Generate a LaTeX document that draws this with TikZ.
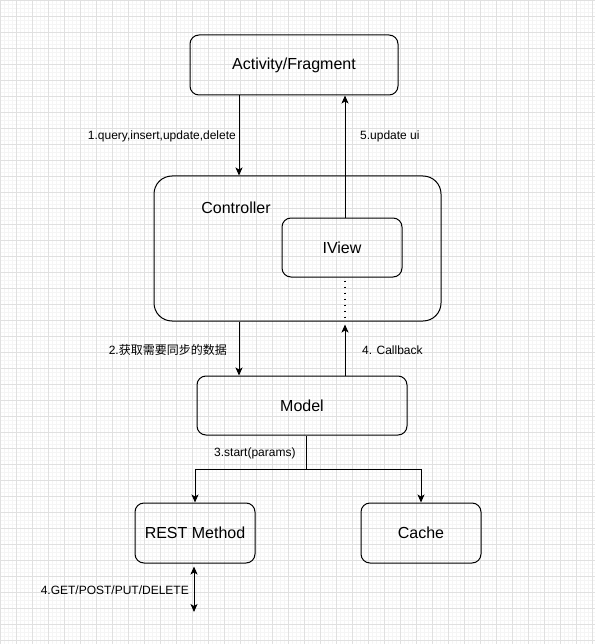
\documentclass[tikz,border=0pt]{standalone}
\usepackage{fontspec}
\setmainfont{Liberation Sans}
\newfontfamily\cjk{Noto Sans CJK SC}
\usepackage{tikz}
\usetikzlibrary{arrows.meta}
\usetikzlibrary{calc}
\usetikzlibrary{positioning}

\begin{document}
\begin{tikzpicture}[x=1pt,y=-1pt,
	box/.style={draw,line width=1pt,rounded corners=9pt,inner sep=0pt,font=\fontsize{16}{18}\selectfont},
	lbl/.style={inner sep=0pt,font=\fontsize{12}{14}\selectfont},
	arr/.style={line width=1pt,-{Stealth[length=8pt,width=7pt,inset=2pt]}},
	minorgrid/.style={draw=black!4,line width=0.5pt},
	majorgrid/.style={draw=black!12,line width=0.8pt}]
		\useasboundingbox (0,0) rectangle (594,644);
		%print background grid
		\begin{scope}[shift={(0.5,0.5)}]
		\draw[minorgrid,step=4pt] (-0.5,-0.5) grid (594,644);
		\draw[majorgrid,step=16pt] (-0.5,-0.5) grid (594,644);
		\end{scope}
		%print boxes
		\node[box,minimum width=208pt,minimum height=60pt] (act) at (294,65) {Activity/Fragment};
		\node[box,rounded corners=18pt,minimum width=287pt,minimum height=145pt] (ctrl) at (297.5,248.5) {};
		\node[font=\fontsize{16}{18}\selectfont] (ctrltext) at (236,208) {Controller};
		\node[box,minimum width=120pt,minimum height=59pt] (iview) at (342,247.5) {IView};
		\node[box,minimum width=210pt,minimum height=59pt] (model) at (302,405.5) {Model};
		\node[box,minimum width=120pt,minimum height=60pt] (rest) at (195,533) {REST Method};
		\node[box,minimum width=120pt,minimum height=60pt] (cache) at (421,533) {Cache};
		%columns of the connectors
		\coordinate (colL) at (239,0);
		\coordinate (colR) at (345,0);
		\coordinate (colM) at (306,0);
		\coordinate (split) at (306,469);
		\coordinate (restend) at (194,612);
		%print connectors
		\draw[arr] (act.south -| colL) -- (ctrl.north -| colL);
		\draw[arr] (iview.north -| colR) -- (act.south -| colR);
		\draw[line width=1.8pt,dash pattern=on 1.8pt off 4.2pt,dash phase=-3pt] (iview.south -| colR) -- (ctrl.south -| colR);
		\draw[arr] (ctrl.south -| colL) -- (model.north -| colL);
		\draw[arr,shorten >=3pt] (model.north -| colR) -- (ctrl.south -| colR);
		\draw[line width=1pt] (model.south -| colM) -- (split);
		\draw[arr] (split) -| (rest.north);
		\draw[arr] (split) -| (cache.north);
		\draw[line width=1pt,{Stealth[length=8pt,width=7pt,inset=2pt]}-{Stealth[length=8pt,width=7pt,inset=2pt]},shorten <=3pt] (rest.south -| restend) -- (restend);
		%print labels
		\node[lbl,anchor=east] (l1) at (236,136) {1.query,insert,update,delete};
		\node[lbl,anchor=west] (l5) at (360,136) {5.update ui};
		\node[lbl,anchor=east] (l2) at (227,350) {2.{\cjk 获取需要同步的数据}};
		\node[lbl,anchor=west] (l4) at (362,350) {4. Callback};
		\node[lbl,anchor=west] (l3) at (214,453) {3.start(params)};
		\node[lbl,anchor=east] (l6) at (189,590) {4.GET/POST/PUT/DELETE};
	\end{tikzpicture}
\end{document}
